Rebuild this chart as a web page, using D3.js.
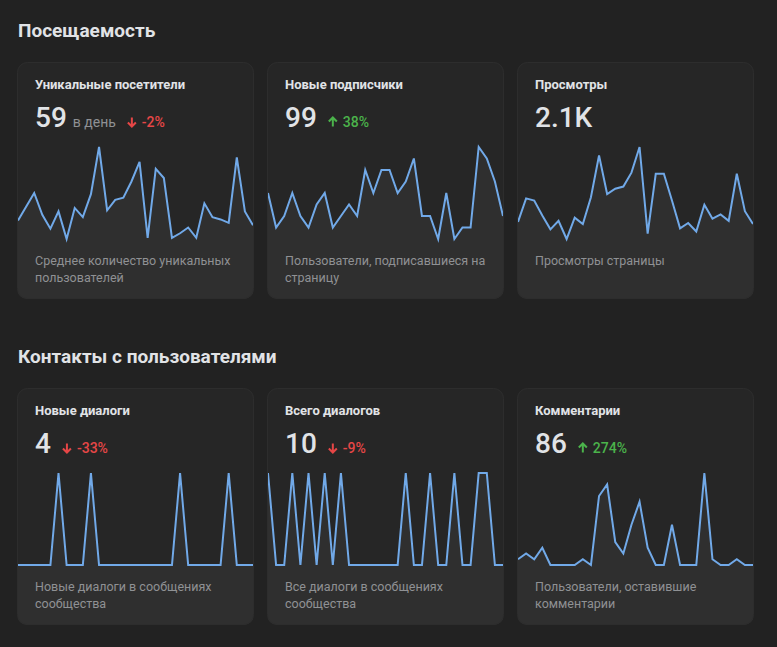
<!DOCTYPE html>
<html>
<head>
<meta charset="utf-8">
<script src="https://cdn.jsdelivr.net/npm/d3@7"></script>
<style>
  body { margin: 0; background: #222222; }
  text { font-family: Roboto, "Noto Sans", sans-serif; }
</style>
</head>
<body>
<div id="dash"></div>
<script>
// Dashboard data, one entry per card (3 cards per section)
const sectionTitles = ["Посещаемость", "Контакты с пользователями"]

const cardTitles = [
  "Уникальные посетители", "Новые подписчики", "Просмотры",
  "Новые диалоги", "Всего диалогов", "Комментарии"
]
const cardValues = ["59", "99", "2.1K", "4", "10", "86"]
const cardUnits = ["в день", "", "", "", "", ""]
const cardChanges = [-2, 38, null, -33, -9, 274]
const cardNotes = [
  ["Среднее количество уникальных", "пользователей"],
  ["Пользователи, подписавшиеся на", "страницу"],
  ["Просмотры страницы"],
  ["Новые диалоги в сообщениях", "сообщества"],
  ["Все диалоги в сообщениях", "сообщества"],
  ["Пользователи, оставившие", "комментарии"]
]

// daily series, 30 days
const uniqueVisitors = [47, 59, 71, 52, 40, 55, 31, 58, 50, 70, 111, 56, 65, 67, 81,
  98, 32, 92, 84, 32, 36, 41, 32, 62, 50, 48, 45, 102, 55, 43]
const newSubscribers = [4, 1, 2, 4, 2, 1, 3, 4, 1, 2, 3, 2, 6, 4, 6,
  6, 4, 5, 7, 2, 2, 0, 4, 0, 1, 1, 8, 7, 5, 2]
const pageViews = [54, 76, 74, 60, 47, 55, 38, 58, 52, 77, 116, 80, 85, 87, 100,
  124, 43, 99, 99, 74, 48, 53, 45, 70, 57, 61, 55, 99, 64, 52]
const newDialogs = [0, 0, 0, 0, 0, 1, 0, 0, 0, 1, 0, 0, 0, 0, 0,
  0, 0, 0, 0, 0, 1, 0, 0, 0, 0, 0, 1, 0, 0, 0]
const allDialogs = [1, 0, 0, 1, 0, 1, 0, 1, 0, 1, 0, 0, 0, 0, 0,
  0, 0, 1, 0, 0, 1, 0, 0, 1, 0, 0, 1, 1, 0, 0]
const commenters = [1, 2, 1, 3, 0, 0, 0, 0, 1, 0, 12, 14, 4, 2, 7,
  11, 3, 0, 0, 7, 0, 0, 0, 16, 1, 0, 0, 1, 0, 0]

const cardSeries = [uniqueVisitors, newSubscribers, pageViews, newDialogs, allDialogs, commenters]

const svgWidth = 777
const svgHeight = 647

const cardW = 237
const cardH = 237
const sectionStep = 326
const firstCardTop = 62
const headingBase = 37

const colors = {
  title: "#e1e3e6",
  note: "#8f9194",
  card: "#262626",
  border: "#2d2d2d",
  fill: "#2f2f2f",
  line: "#71a9e8",
  down: "#e64646",
  up: "#4bb34b"
}

let svg = d3
  .select("#dash")
  .append("svg")
  .attr("width", svgWidth)
  .attr("height", svgHeight)

// columns
let colX = d3.scaleBand()
  .domain([0, 1, 2])
  .range([17, 754])
  .paddingInner(13 / 250)

// sparkline horizontal scale, shared by all cards
let x = d3.scaleLinear()
  .domain([0, 29])
  .range([1, cardW - 1])

sectionTitles.forEach((t, s) => {
  svg.append("text")
    .attr("x", 18)
    .attr("y", headingBase + s * sectionStep)
    .attr("fill", colors.title)
    .style("font-size", "19px")
    .style("font-weight", 700)
    .text(t)
})

cardTitles.forEach((title, i) => {
  let row = Math.floor(i / 3)
  let col = i % 3
  let data = cardSeries[i]

  let card = svg.append("g")
    .attr("transform", `translate(${colX(col)}, ${firstCardTop + row * sectionStep})`)

  svg.append("clipPath")
    .attr("id", "clip" + i)
    .append("rect")
    .attr("width", cardW)
    .attr("height", cardH)
    .attr("rx", 10)

  card.append("rect")
    .attr("width", cardW)
    .attr("height", cardH)
    .attr("rx", 10)
    .attr("fill", colors.card)

  let y = d3.scaleLinear()
    .domain(d3.extent(data))
    .range([177, 85])

  let spark = card.append("g").attr("clip-path", `url(#clip${i})`)

  spark.append("path")
    .datum(data)
    .attr("fill", colors.fill)
    .attr("d", d3.area()
      .x((d, j) => x(j))
      .y0(cardH)
      .y1(d => y(d)))

  spark.append("path")
    .datum(data)
    .attr("fill", "none")
    .attr("stroke", colors.line)
    .attr("stroke-width", 2)
    .attr("stroke-linejoin", "miter")
    .attr("d", d3.line()
      .x((d, j) => x(j))
      .y(d => y(d)))

  card.append("rect")
    .attr("x", 0.5)
    .attr("y", 0.5)
    .attr("width", cardW - 1)
    .attr("height", cardH - 1)
    .attr("rx", 10)
    .attr("fill", "none")
    .attr("stroke", colors.border)

  card.append("text")
    .attr("x", 18)
    .attr("y", 27)
    .attr("fill", colors.title)
    .style("font-size", "13px")
    .style("font-weight", 700)
    .text(title)

  let big = card.append("text")
    .attr("x", 18)
    .attr("y", 65)
    .attr("fill", colors.title)
    .style("font-size", "28px")
    .style("font-weight", 500)
    .text(cardValues[i])

  let cursor = 18 + big.node().getComputedTextLength()

  if (cardUnits[i]) {
    let unit = card.append("text")
      .attr("x", cursor + 6)
      .attr("y", 65)
      .attr("fill", colors.note)
      .style("font-size", "14px")
      .text(cardUnits[i])
    cursor += 6 + unit.node().getComputedTextLength()
  }

  let ch = cardChanges[i]
  if (ch !== null) {
    let c = ch < 0 ? colors.down : colors.up
    let ax = cursor + 11
    let arrow = card.append("g")
      .attr("transform", `translate(${ax}, 55)`)
    // small arrow icon
    let pts = ch < 0
      ? "M5,0.5 L5,9.5 M1,5.5 L5,9.5 L9,5.5"
      : "M5,9.5 L5,0.5 M1,4.5 L5,0.5 L9,4.5"
    arrow.append("path")
      .attr("d", pts)
      .attr("fill", "none")
      .attr("stroke", c)
      .attr("stroke-width", 2)
    card.append("text")
      .attr("x", ax + 15)
      .attr("y", 65)
      .attr("fill", c)
      .style("font-size", "14px")
      .style("font-weight", 500)
      .text((ch < 0 ? "-" : "") + Math.abs(ch) + "%")
  }

  cardNotes[i].forEach((line, k) => {
    card.append("text")
      .attr("x", 18)
      .attr("y", 203 + k * 16.5)
      .attr("fill", colors.note)
      .style("font-size", "12.5px")
      .text(line)
  })
})
</script>
</body>
</html>
